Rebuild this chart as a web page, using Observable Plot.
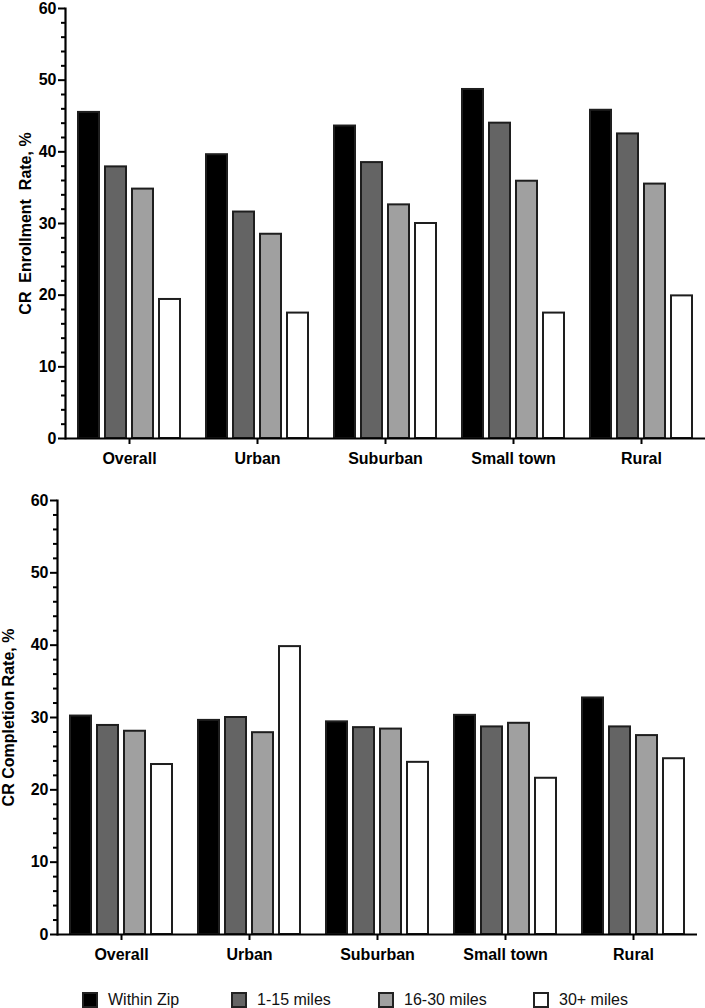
<!DOCTYPE html>
<html>
<head>
<meta charset="utf-8">
<script src="https://cdn.jsdelivr.net/npm/d3@7"></script>
<script src="https://cdn.jsdelivr.net/npm/@observablehq/plot@0.6"></script>
<style>
  html, body { margin: 0; padding: 0; background: #fff; }
  body { width: 705px; height: 1008px; overflow: hidden; font-family: "Liberation Sans", Arial, sans-serif; }
  svg { display: block; }
  #legend { position: relative; height: 38px; }
  .item { position: absolute; top: 21px; display: flex; align-items: center; font-size: 16px; color: #111; }
  .sw { width: 12px; height: 12px; border: 2px solid #222; margin-right: 10px; }
</style>
</head>
<body>
<div id="chartTop"></div>
<div id="chartBottom"></div>
<div id="legend"></div>
<script>
const categories = ["Overall", "Urban", "Suburban", "Small town", "Rural"];
const series = ["Within Zip", "1-15 miles", "16-30 miles", "30+ miles"];
const colors = ["#000000", "#646464", "#a0a0a0", "#ffffff"];
// values per category, in series order
const enrollment = [
  [45.5, 37.9, 34.8, 19.4],
  [39.6, 31.6, 28.5, 17.5],
  [43.6, 38.5, 32.6, 30.0],
  [48.7, 44.0, 35.9, 17.5],
  [45.8, 42.5, 35.5, 19.9]
];
const completion = [
  [30.2, 28.9, 28.1, 23.5],
  [29.6, 30.0, 27.9, 39.8],
  [29.4, 28.6, 28.4, 23.8],
  [30.3, 28.7, 29.2, 21.6],
  [32.7, 28.7, 27.5, 24.3]
];
const majorTicks = [0, 10, 20, 30, 40, 50, 60];
const minorTicks = d3.range(0, 61, 2).filter(v => v % 10 !== 0);

function rows(values) {
  const out = [];
  categories.forEach((c, i) => series.forEach((s, j) => out.push({category: c, series: s, value: values[i][j]})));
  return out;
}

function chart(values, label, opts) {
  return Plot.plot({
    width: 705,
    height: opts.height,
    marginLeft: opts.marginLeft,
    marginRight: opts.marginRight,
    marginTop: opts.marginTop,
    marginBottom: opts.marginBottom,
    style: {fontFamily: "'Liberation Sans', Arial, sans-serif", color: "#000", background: "#fff"},
    fx: {domain: categories, padding: 0, label: null},
    x: {domain: series, paddingInner: 0.22, paddingOuter: 0.40, axis: null},
    y: {domain: [0, 60]},
    color: {domain: series, range: colors},
    marks: [
      Plot.barY(rows(values), {fx: "category", x: "series", y: "value", fill: "series", stroke: "#1e1e1e", strokeWidth: 2}),
      Plot.ruleY([0], {strokeWidth: 2.2}),
      Plot.frame({anchor: "left", facetAnchor: "left", strokeWidth: 2.2}),
      Plot.axisY(minorTicks, {tickSize: 4, text: null, strokeWidth: 2, label: null}),
      Plot.axisY(majorTicks, {tickSize: 7, tickPadding: 2, strokeWidth: 2, fontSize: 16, fontWeight: "bold",
        label, labelAnchor: "center", labelArrow: "none", labelOffset: opts.labelOffset}),
      Plot.axisFx({anchor: "bottom", tickSize: 6, tickPadding: 8, strokeWidth: 2, fontSize: 16, fontWeight: "bold", label: null})
    ]
  });
}

const svgTop = chart(enrollment, "CR\u00a0\u00a0Enrollment\u00a0\u00a0Rate, %",
  {height: 470, marginLeft: 65, marginRight: 0, marginTop: 8, marginBottom: 32, labelOffset: 46});
const svgBottom = chart(completion, "CR Completion Rate, %",
  {height: 500, marginLeft: 57, marginRight: 8, marginTop: 30, marginBottom: 36, labelOffset: 55});
document.getElementById("chartTop").append(svgTop);
document.getElementById("chartBottom").append(svgBottom);

const legendX = [82, 231, 378, 533];
const legend = document.getElementById("legend");
series.forEach((s, i) => {
  const item = document.createElement("div");
  item.className = "item";
  item.style.left = legendX[i] + "px";
  const sw = document.createElement("div");
  sw.className = "sw";
  sw.style.background = colors[i];
  const t = document.createElement("span");
  t.textContent = s;
  item.append(sw, t);
  legend.append(item);
});
</script>
</body>
</html>
